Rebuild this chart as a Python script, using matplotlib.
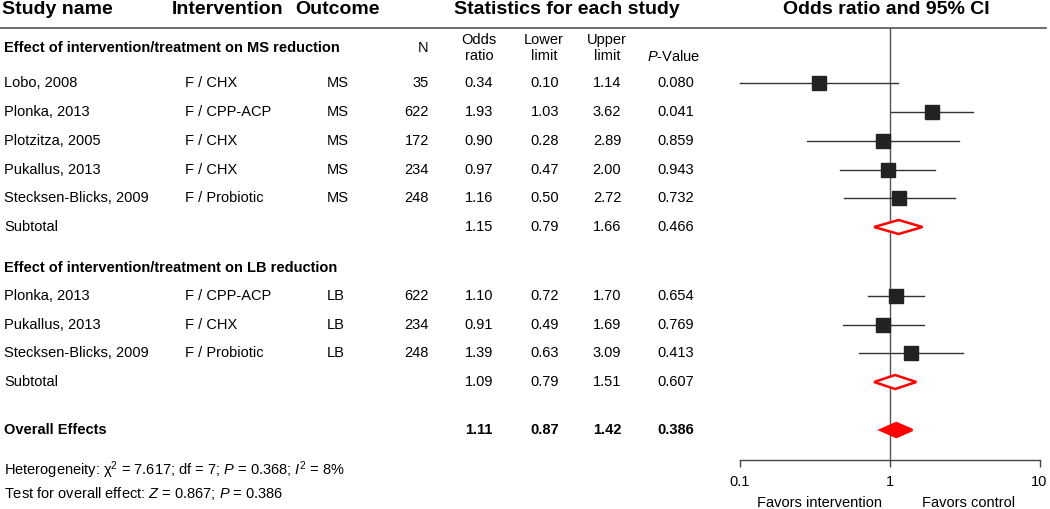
import numpy as np
import matplotlib
matplotlib.use("Agg")
import matplotlib.pyplot as plt

plt.rcParams['font.family'] = ['Liberation Sans', 'DejaVu Sans']
plt.rcParams['mathtext.fontset'] = 'custom'
plt.rcParams['mathtext.rm'] = 'Liberation Sans'
plt.rcParams['mathtext.it'] = 'Liberation Sans:italic'
plt.rcParams['mathtext.bf'] = 'Liberation Sans:bold'

# data
studies_ms = ["Lobo, 2008", "Plonka, 2013", "Plotzitza, 2005", "Pukallus, 2013", "Stecksen-Blicks, 2009"]
interv_ms = ["F / CHX", "F / CPP-ACP", "F / CHX", "F / CHX", "F / Probiotic"]
n_ms = [35, 622, 172, 234, 248]
or_ms = [0.34, 1.93, 0.90, 0.97, 1.16]
lo_ms = [0.10, 1.03, 0.28, 0.47, 0.50]
up_ms = [1.14, 3.62, 2.89, 2.00, 2.72]
p_ms = [0.080, 0.041, 0.859, 0.943, 0.732]
sub_ms = (1.15, 0.79, 1.66, 0.466)

studies_lb = ["Plonka, 2013", "Pukallus, 2013", "Stecksen-Blicks, 2009"]
interv_lb = ["F / CPP-ACP", "F / CHX", "F / Probiotic"]
n_lb = [622, 234, 248]
or_lb = [1.10, 0.91, 1.39]
lo_lb = [0.72, 0.49, 0.63]
up_lb = [1.70, 1.69, 3.09]
p_lb = [0.654, 0.769, 0.413]
sub_lb = (1.09, 0.79, 1.51, 0.607)

overall = (1.11, 0.87, 1.42, 0.386)

# layout (pixel rows)
W, H = 1050, 509
y_ms = [83, 112, 141, 170, 198]
y_sub_ms = 227
y_lb = [296, 325, 353]
y_sub_lb = 382
y_all = 430
axis_y = 460

fig = plt.figure(figsize=(W / 100, H / 100), dpi=100)
ax = fig.add_axes([0, 0, 1, 1])
ax.set_xlim(0, W)
ax.set_ylim(H, 0)
ax.axis('off')

fs = 10.5
hfs = 14
# header
ax.text(2, 9, "Study name", fontsize=hfs, fontweight='bold', va='center')
ax.text(172, 9, "Intervention", fontsize=hfs, fontweight='bold', va='center')
ax.text(295, 9, "Outcome", fontsize=hfs, fontweight='bold', va='center')
ax.text(567, 9, "Statistics for each study", fontsize=hfs, fontweight='bold', va='center', ha='center')
ax.text(886, 9, "Odds ratio and 95% CI", fontsize=hfs, fontweight='bold', va='center', ha='center')
ax.plot([0, 1046], [28, 28], color='#555555', lw=1.2)

ax.text(4, 48, "Effect of intervention/treatment on MS reduction", fontsize=fs, fontweight='bold', va='center')
ax.text(428, 48, "N", fontsize=fs, va='center', ha='right')
ax.text(479, 48, "Odds\nratio", fontsize=fs, va='center', ha='center', linespacing=1.15)
ax.text(544, 48, "Lower\nlimit", fontsize=fs, va='center', ha='center', linespacing=1.15)
ax.text(607, 48, "Upper\nlimit", fontsize=fs, va='center', ha='center', linespacing=1.15)
ax.text(674, 56, "$P$-Value", fontsize=fs, va='center', ha='center')

x_name, x_int, x_out, x_n = 4, 185, 327, 429
x_or, x_lo, x_up, x_p = 479, 545, 607, 676


def row(y, name, intv, outc, n, o, lo, up, p, bold=False):
    w = 'bold' if bold else 'normal'
    ax.text(x_name, y, name, fontsize=fs, va='center', fontweight=w)
    if intv:
        ax.text(x_int, y, intv, fontsize=fs, va='center')
        ax.text(x_out, y, outc, fontsize=fs, va='center')
        ax.text(x_n, y, str(n), fontsize=fs, va='center', ha='right')
    ax.text(x_or, y, f"{o:.2f}", fontsize=fs, va='center', ha='center', fontweight=w)
    ax.text(x_lo, y, f"{lo:.2f}", fontsize=fs, va='center', ha='center', fontweight=w)
    ax.text(x_up, y, f"{up:.2f}", fontsize=fs, va='center', ha='center', fontweight=w)
    ax.text(x_p, y, f"{p:.3f}", fontsize=fs, va='center', ha='center', fontweight=w)


for i in range(len(studies_ms)):
    row(y_ms[i], studies_ms[i], interv_ms[i], "MS", n_ms[i], or_ms[i], lo_ms[i], up_ms[i], p_ms[i])
row(y_sub_ms, "Subtotal", None, None, None, *sub_ms)

ax.text(4, 268, "Effect of intervention/treatment on LB reduction", fontsize=fs, fontweight='bold', va='center')
for i in range(len(studies_lb)):
    row(y_lb[i], studies_lb[i], interv_lb[i], "LB", n_lb[i], or_lb[i], lo_lb[i], up_lb[i], p_lb[i])
row(y_sub_lb, "Subtotal", None, None, None, *sub_lb)
row(y_all, "Overall Effects", None, None, None, *overall, bold=True)

ax.text(4, 470, "Heterogeneity: χ$^2$ = 7.617; df = 7; $P$ = 0.368; $I^2$ = 8%", fontsize=fs, va='center')
ax.text(4, 494, "Test for overall effect: $Z$ = 0.867; $P$ = 0.386", fontsize=fs, va='center')

# forest axes
x0, x1 = 739.5, 1039.5
fx = fig.add_axes([x0 / W, (H - axis_y) / H, (x1 - x0) / W, axis_y / H])
fx.set_xscale('log')
fx.set_xlim(0.1, 10)
fx.set_ylim(axis_y, 0)
fx.patch.set_visible(False)
for s in ['top', 'right', 'left']:
    fx.spines[s].set_visible(False)
fx.spines['bottom'].set_color('#444444')
fx.spines['bottom'].set_linewidth(1.0)
fx.set_yticks([])
fx.set_xticks([0.1, 1, 10])
fx.set_xticklabels(["0.1", "1", "10"])
fx.xaxis.set_minor_locator(matplotlib.ticker.NullLocator())
fx.tick_params(axis='x', direction='out', length=5, width=1.0, color='#444444', labelsize=fs, pad=6)
fx.plot([1, 1], [28, axis_y], color='#555555', lw=1.0, clip_on=False)

all_or = or_ms + or_lb
all_lo = lo_ms + lo_lb
all_up = up_ms + up_lb
all_y = y_ms + y_lb
for o, lo, up, y in zip(all_or, all_lo, all_up, all_y):
    fx.plot([lo, up], [y, y], color='#333333', lw=1.0, clip_on=False)
    fx.plot([o], [y], marker='s', ms=10, color='#222222', mec='#222222', clip_on=False)


def diamond(est, lo, up, y, filled):
    xs = [lo, est, up, est, lo]
    ys = [y, y - 7, y, y + 7, y]
    fx.fill(xs, ys, facecolor='red' if filled else 'white', edgecolor='red', lw=1.8, clip_on=False, zorder=3)


diamond(sub_ms[0], sub_ms[1], sub_ms[2], y_sub_ms, False)
diamond(sub_lb[0], sub_lb[1], sub_lb[2], y_sub_lb, False)
diamond(overall[0], overall[1], overall[2], y_all, True)

ax.text(882, 503, "Favors intervention", fontsize=fs, va='center', ha='right')
ax.text(969, 503, "Favors control", fontsize=fs, va='center', ha='center')

fig.savefig("out.png", dpi=100)
